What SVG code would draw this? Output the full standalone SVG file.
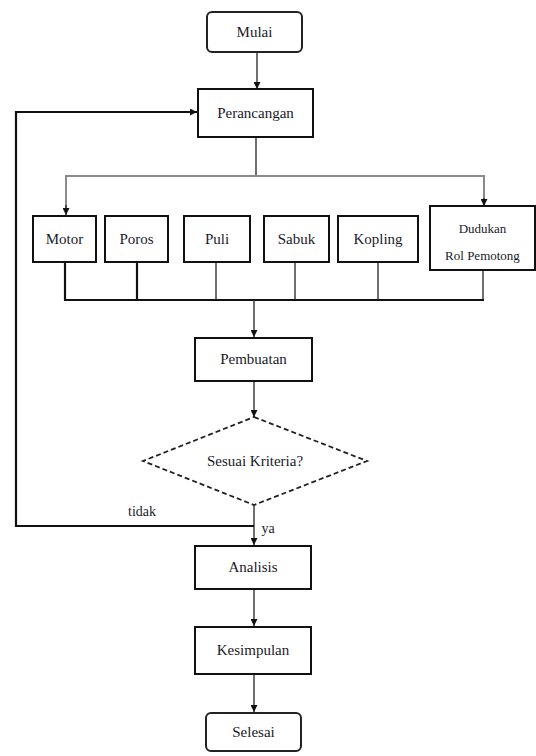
<svg xmlns="http://www.w3.org/2000/svg" width="536" height="756" viewBox="0 0 536 756">
<style>
.box{fill:#fff;stroke:#111;stroke-width:2}
.term{fill:#fff;stroke:#222;stroke-width:2}
text{font-family:'Liberation Serif','Times New Roman','DejaVu Serif',serif;fill:#1a1a2a;text-anchor:middle}
.t{font-size:15px}
.s{font-size:13px}
.ln{fill:none;stroke:#222;stroke-width:1.3}
.bold{fill:none;stroke:#111;stroke-width:2.2}
.gray{fill:none;stroke:#8a8a8a;stroke-width:2}
</style>
<defs>
<marker id="ah" viewBox="0 0 10 10" refX="10" refY="5" markerWidth="7" markerHeight="7" orient="auto-start-reverse" markerUnits="userSpaceOnUse">
<path d="M0,0 L10,5 L0,10 z" fill="#111"/>
</marker>
</defs>
<rect width="536" height="756" fill="#fff"/>
<g id="connectors">
<line class="ln" x1="257" y1="52" x2="257" y2="89" marker-end="url(#ah)"/>
<line class="ln" x1="256" y1="137" x2="256" y2="176"/>
<polyline class="gray" points="66,213 66,176 484,176 484,205"/>
<line class="ln" x1="66" y1="205" x2="66" y2="215" marker-end="url(#ah)"/>
<line class="ln" x1="484" y1="198" x2="484" y2="206" marker-end="url(#ah)"/>
<line class="bold" x1="65" y1="262" x2="65" y2="300"/>
<line class="bold" x1="137" y1="262" x2="137" y2="300"/>
<line class="ln" x1="216" y1="262" x2="216" y2="300"/>
<line class="ln" x1="295" y1="262" x2="295" y2="300"/>
<line class="ln" x1="378" y1="262" x2="378" y2="300"/>
<line class="ln" x1="483" y1="270" x2="483" y2="300"/>
<line class="bold" x1="64" y1="300" x2="484" y2="300"/>
<line class="ln" x1="254" y1="300" x2="254" y2="337" marker-end="url(#ah)"/>
<line class="ln" x1="254" y1="381" x2="254" y2="417" marker-end="url(#ah)"/>
<line class="ln" x1="254" y1="505" x2="254" y2="545" marker-end="url(#ah)"/>
<polyline class="bold" points="254,526 16,526 16,112 197,112" marker-end="url(#ah)"/>
<line class="ln" x1="254" y1="589" x2="254" y2="626" marker-end="url(#ah)"/>
<line class="ln" x1="254" y1="674" x2="254" y2="712" marker-end="url(#ah)"/>
<text class="t" x="142" y="516" style="font-size:14px">tidak</text>
<text class="t" x="268" y="533" style="font-size:14px">ya</text>
</g>
<g id="mulai">
<rect class="term" x="207" y="12" width="95" height="40" rx="5"/>
<text class="t" x="254.5" y="37">Mulai</text>
</g>
<g id="perancangan">
<rect class="box" x="198" y="89" width="115" height="48"/>
<text class="t" x="255.5" y="118">Perancangan</text>
</g>
<g id="motor">
<rect class="box" x="33" y="216" width="63" height="46"/>
<text class="t" x="64.5" y="244">Motor</text>
</g>
<g id="poros">
<rect class="box" x="105" y="216" width="63" height="46"/>
<text class="t" x="136.5" y="244">Poros</text>
</g>
<g id="puli">
<rect class="box" x="184" y="216" width="66" height="46"/>
<text class="t" x="217" y="244">Puli</text>
</g>
<g id="sabuk">
<rect class="box" x="264" y="216" width="65" height="46"/>
<text class="t" x="296.5" y="244">Sabuk</text>
</g>
<g id="kopling">
<rect class="box" x="338" y="216" width="80" height="46"/>
<text class="t" x="378" y="244">Kopling</text>
</g>
<g id="dudukan">
<rect class="box" x="430" y="206" width="105" height="64"/>
<text class="s" x="482.5" y="233">Dudukan</text>
<text class="s" x="482.5" y="260">Rol Pemotong</text>
</g>
<g id="pembuatan">
<rect class="box" x="195" y="338" width="117" height="43"/>
<text class="t" x="253.5" y="364">Pembuatan</text>
</g>
<g id="kriteria">
<polygon points="254,417 367,461 254,505 143,461" fill="#fff" stroke="#222" stroke-width="1.8" stroke-dasharray="5,3"/>
<text class="t" x="255" y="466">Sesuai Kriteria?</text>
</g>
<g id="analisis">
<rect class="box" x="195" y="546" width="116" height="43"/>
<text class="t" x="253" y="572">Analisis</text>
</g>
<g id="kesimpulan">
<rect class="box" x="195" y="627" width="116" height="47"/>
<text class="t" x="253" y="655">Kesimpulan</text>
</g>
<g id="selesai">
<rect class="term" x="206" y="713" width="95" height="38" rx="5"/>
<text class="t" x="253.5" y="737">Selesai</text>
</g>
</svg>
